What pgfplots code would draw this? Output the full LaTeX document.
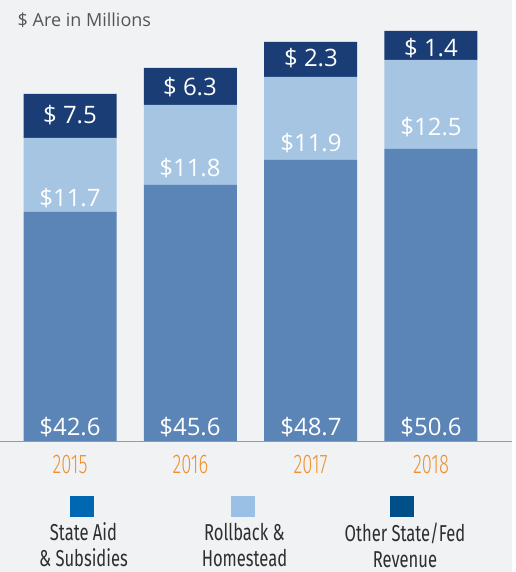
\documentclass[border=0pt]{standalone}
\usepackage{pgfplots}
\pgfplotsset{compat=1.18}
\usepackage{fontspec}
\setmainfont{Open Sans}
\newfontfamily\cond[FakeStretch=0.72]{Fira Sans}
\newfontfamily\condlight[FakeStretch=0.68]{Fira Sans Light}
\definecolor{panel}{HTML}{F1F2F4}
\definecolor{aidblue}{HTML}{5B85B6}
\definecolor{rollblue}{HTML}{A5C5E3}
\definecolor{otherblue}{HTML}{193D74}
\definecolor{legaid}{HTML}{0068B2}
\definecolor{legroll}{HTML}{9BC0E5}
\definecolor{legother}{HTML}{004F89}
\definecolor{yearorange}{HTML}{F0902C}
\definecolor{titlegray}{HTML}{555555}
\definecolor{legtext}{HTML}{2E2E2E}

\begin{document}
\begin{tikzpicture}
\fill[panel] (0pt,-131pt) rectangle (512pt,441pt);
\fill[white] (512pt,-131pt) rectangle (515pt,441pt);
\begin{axis}[
    scale only axis,
    width=512pt,
    height=441pt,
    at={(0pt,0pt)},
    anchor=south west,
    xmin=-0.578, xmax=3.677,
    ymin=0, ymax=441,
    ybar stacked,
    bar width=93pt,
    axis x line*=bottom,
    axis y line=none,
    axis line style={draw=black!40, line width=0.9pt},
    xtick={0,1,2,3},
    xticklabels={2015,2016,2017,2018},
    xtick style={draw=none},
    x tick label style={anchor=center, yshift=-24pt,
        font=\condlight\fontsize{27}{30}\selectfont, text=yearorange},
    clip=false,
]
% drawn segment heights (bar is not to scale with the printed values)
\addplot[fill=aidblue, draw=none] coordinates {(0,229) (1,256) (2,281) (3,292)};
\addplot[fill=rollblue, draw=none] coordinates {(0,74) (1,80) (2,83) (3,89)};
\addplot[fill=otherblue, draw=none] coordinates {(0,44) (1,37) (2,35) (3,29)};
\end{axis}

\begin{scope}[every node/.style={text=white, font=\fontsize{24}{28}\selectfont, inner sep=0pt}]
\node at (69.5pt,14pt) {\$42.6};
\node at (189.5pt,14pt) {\$45.6};
\node at (310.5pt,14pt) {\$48.7};
\node at (430.5pt,14pt) {\$50.6};
\node at (69.5pt,243pt) {\$11.7};
\node at (189.5pt,273pt) {\$11.8};
\node at (310.5pt,298pt) {\$11.9};
\node at (430.5pt,314pt) {\$12.5};
\node at (69.5pt,326pt) {\$ 7.5};
\node at (189.5pt,354pt) {\$ 6.3};
\node at (310.5pt,383pt) {\$ 2.3};
\node at (430.5pt,393pt) {\$ 1.4};
\end{scope}

\node[anchor=west, text=titlegray, font=\fontsize{18}{22}\selectfont, inner sep=0pt]
    at (17pt,421pt) {\$ Are in Millions};

\fill[legaid] (70pt,-76pt) rectangle (94pt,-55pt);
\fill[legroll] (231pt,-76pt) rectangle (255pt,-55pt);
\fill[legother] (390pt,-76pt) rectangle (414pt,-55pt);
\begin{scope}[every node/.style={text=legtext, align=center, inner sep=0pt,
    font=\cond\fontsize{23}{26}\selectfont}]
\node at (83pt,-104pt) {State Aid\\\& Subsidies};
\node at (244pt,-104pt) {Rollback \&\\Homestead};
\node at (404.5pt,-104pt) {Other State/Fed\\Revenue};
\end{scope}
\end{tikzpicture}
\end{document}
